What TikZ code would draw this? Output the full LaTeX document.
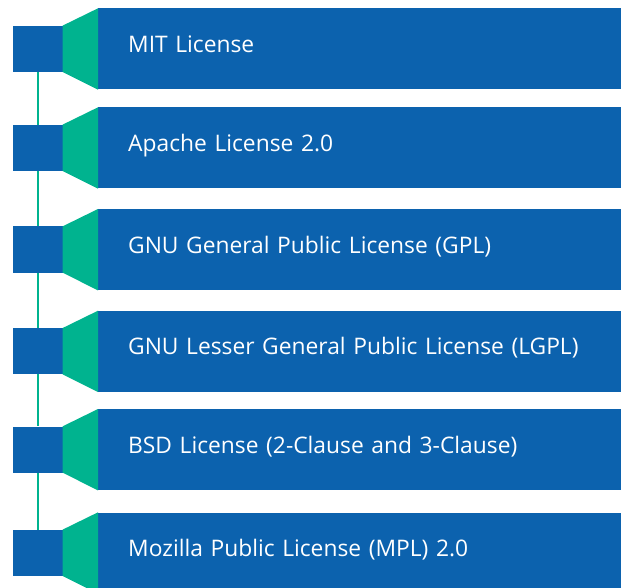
\documentclass[tikz,border=0pt]{standalone}
\usepackage{fontspec}
\setmainfont{Open Sans}
\definecolor{boxblue}{RGB}{12,98,174}
\definecolor{accentgreen}{RGB}{0,179,143}
\begin{document}
\begin{tikzpicture}[x=1pt,y=-1pt,
  bigbox/.style={fill=boxblue, draw=none, anchor=north west, minimum width=540pt, minimum height=81pt,
    text width=480pt, inner xsep=30pt, inner ysep=0pt, align=left, text height=15.6pt, text depth=8.6pt,
    text=white, font=\fontsize{22.8}{26}\selectfont},
  sqbox/.style={fill=boxblue, draw=none, minimum width=50pt, minimum height=46pt, inner sep=0pt, anchor=west},
  funnel/.style={fill=accentgreen, draw=none},
  conn/.style={draw=accentgreen, line width=2pt}]
\useasboundingbox (0,0) rectangle (621,588);
\clip (0,0) rectangle (621,588);
\foreach \t/\lab [count=\i] in {8.3/{MIT License},107.3/{Apache License 2.0},209/{GNU General Public License (GPL)},310.7/{GNU Lesser General Public License (LGPL)},409/{BSD License (2-Clause and 3-Clause)},512.3/{Mozilla Public License (MPL) 2.0}}{
  \node[bigbox] (b\i) at (98,\t) {\lab};
  \node[sqbox] (s\i) at (12.3,\t+40.5) {};
  \fill[funnel] (s\i.north east) -- (b\i.north west) -- (b\i.south west) -- (s\i.south east) -- cycle;
}
\foreach \i [evaluate=\i as \j using int(\i+1)] in {1,...,5}{
  \draw[conn] (s\i.south) -- (s\j.north);
}
\end{tikzpicture}
\end{document}
